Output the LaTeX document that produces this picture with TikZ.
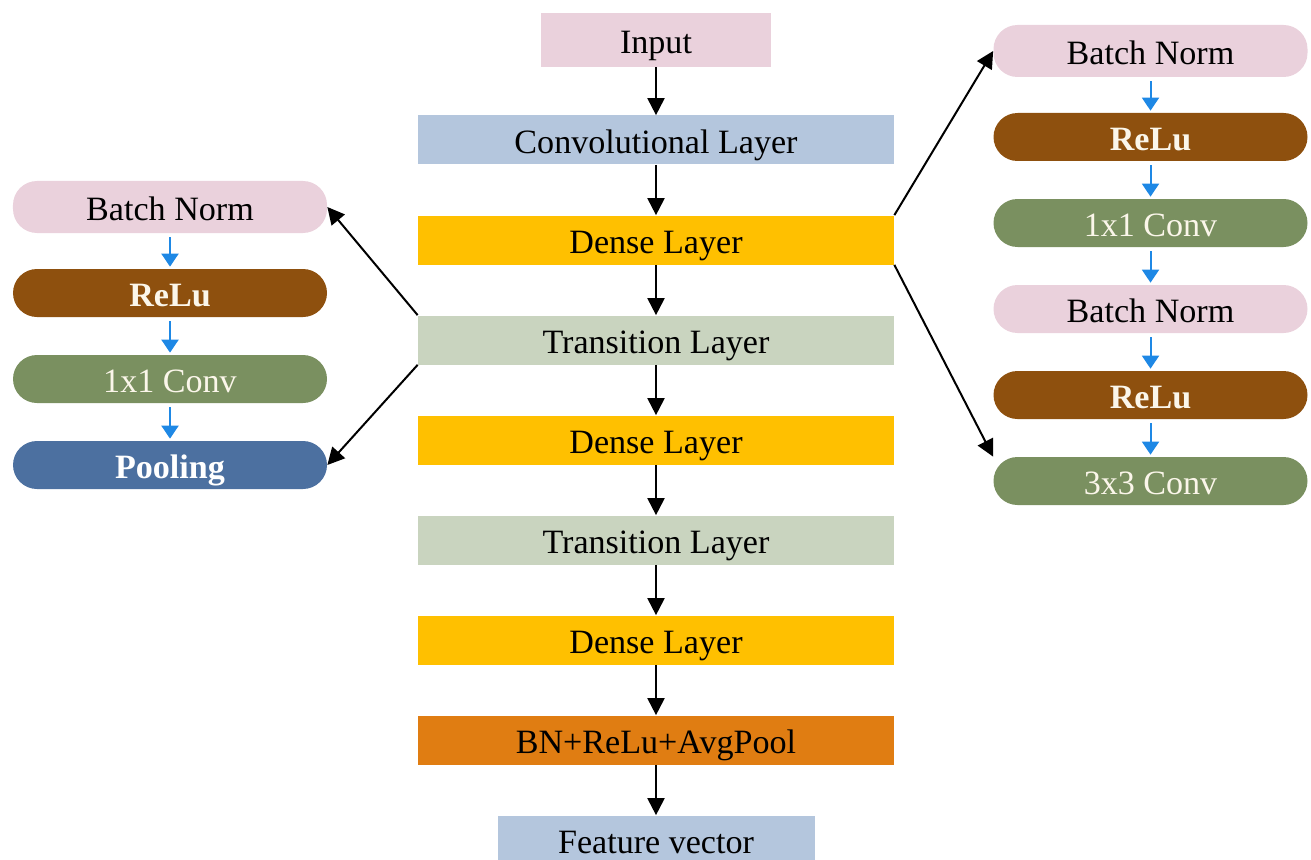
\documentclass[tikz,border=0pt]{standalone}
\usepackage{fontspec}
\setmainfont{Liberation Serif}
\usepackage{xcolor}
\usetikzlibrary{positioning,arrows.meta}

\definecolor{inpink}{HTML}{EAD1DC}
\definecolor{convblue}{HTML}{B4C6DD}
\definecolor{densegold}{HTML}{FFC000}
\definecolor{transgreen}{HTML}{C9D4BF}
\definecolor{poolorange}{HTML}{E07D12}
\definecolor{relubrown}{HTML}{8E500E}
\definecolor{convgreen}{HTML}{7A9060}
\definecolor{poolblue}{HTML}{4C70A0}
\definecolor{arrowblue}{HTML}{1E88E5}
\definecolor{lighttext}{HTML}{FBF6EA}

\begin{document}
\begin{tikzpicture}[
  node distance=2cm,
  every node/.style={
    rectangle,
    align=center,
    inner sep=0pt,
    font=\fontsize{19.4}{23}\selectfont,
    text height=0.6cm,
    text depth=0.06cm,
    minimum height=0.98cm
  },
  layer/.style={minimum width=9.52cm},
  side/.style={
    node distance=1.72cm,
    rounded corners=0.48cm,
    minimum width=6.28cm,
    minimum height=0.96cm
  },
  main/.style={-{Triangle[width=0.34cm,length=0.34cm]}, line width=0.04cm},
  sub/.style={-{Triangle[width=0.34cm,length=0.26cm]}, line width=0.04cm,
    arrowblue, shorten <=0.08cm, shorten >=0.04cm}
]

\useasboundingbox (0,0) rectangle (26.22,-17.18);

% main column
\node (input) [fill=inpink, minimum width=4.6cm, minimum height=1.08cm] at (13.12,-0.8) {Input};

\node (conv) [layer, fill=convblue, below of=input] {Convolutional Layer};

\node (dense1) [layer, fill=densegold, below of=conv] {Dense Layer};

\node (trans1) [layer, fill=transgreen, below of=dense1] {Transition Layer};

\node (dense2) [layer, fill=densegold, below of=trans1] {Dense Layer};

\node (trans2) [layer, fill=transgreen, below of=dense2] {Transition Layer};

\node (dense3) [layer, fill=densegold, below of=trans2] {Dense Layer};

\node (pool) [layer, fill=poolorange, below of=dense3] {BN+ReLu+AvgPool};

\node (feat) [fill=convblue, minimum width=6.34cm, below of=pool] {Feature vector};

\draw[main] (input) -- (conv);
\draw[main] (conv) -- (dense1);
\draw[main] (dense1) -- (trans1);
\draw[main] (trans1) -- (dense2);
\draw[main] (dense2) -- (trans2);
\draw[main] (trans2) -- (dense3);
\draw[main] (dense3) -- (pool);
\draw[main] (pool) -- (feat);

% transition block (left)
\node (bnl) [side, fill=inpink, minimum height=1.04cm] at (3.4,-4.14) {Batch Norm};

\node (relul) [side, fill=relubrown, text=lighttext, below of=bnl] {\bfseries ReLu};

\node (convl) [side, fill=convgreen, text=lighttext, below of=relul] {1x1 Conv};

\node (pooll) [side, fill=poolblue, text=white, below of=convl] {\bfseries Pooling};

\draw[sub] (bnl) -- (relul);
\draw[sub] (relul) -- (convl);
\draw[sub] (convl) -- (pooll);

% dense block (right)
\node (bnr) [side, fill=inpink, minimum height=1.04cm] at (23.01,-1.02) {Batch Norm};

\node (relur) [side, fill=relubrown, text=lighttext, below of=bnr] {\bfseries ReLu};

\node (c1r) [side, fill=convgreen, text=lighttext, below of=relur] {1x1 Conv};

\node (bnr2) [side, fill=inpink, below of=c1r] {Batch Norm};

\node (relur2) [side, fill=relubrown, text=lighttext, below of=bnr2] {\bfseries ReLu};

\node (c3r) [side, fill=convgreen, text=lighttext, below of=relur2] {3x3 Conv};

\draw[sub] (bnr) -- (relur);
\draw[sub] (relur) -- (c1r);
\draw[sub] (c1r) -- (bnr2);
\draw[sub] (bnr2) -- (relur2);
\draw[sub] (relur2) -- (c3r);

% links to the blocks
\draw[main] (dense1.north east) -- (bnr.west);
\draw[main] (dense1.south east) -- (c3r.north west);
\draw[main] (trans1.north west) -- (bnl.east);
\draw[main] (trans1.south west) -- (pooll.east);

\end{tikzpicture}
\end{document}
